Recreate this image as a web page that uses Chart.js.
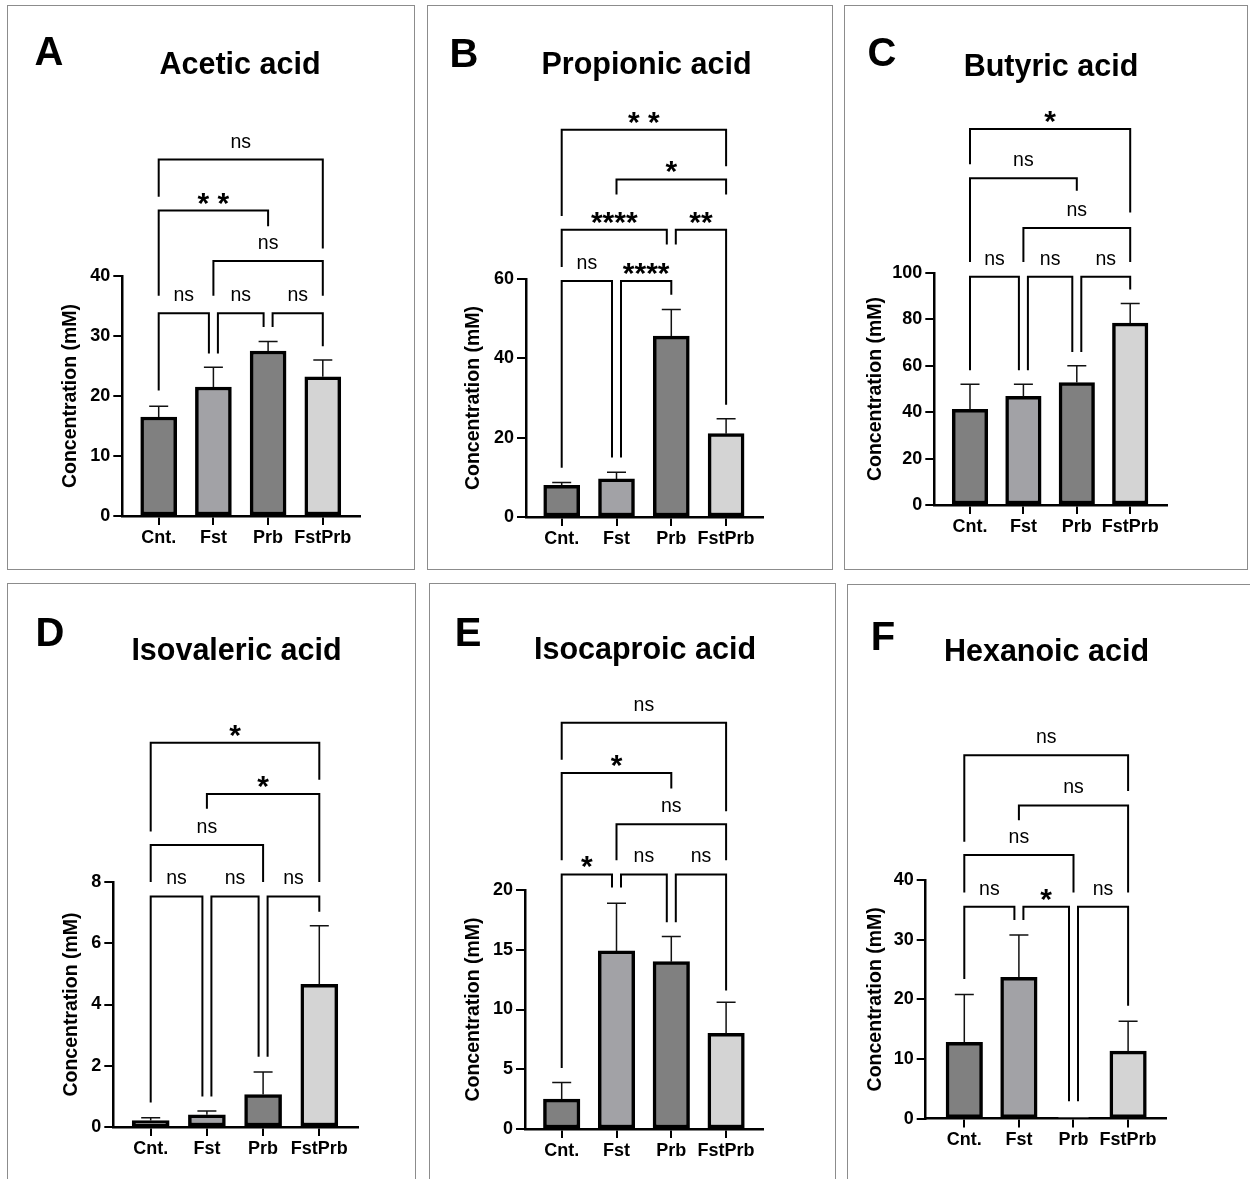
<!DOCTYPE html>
<html>
<head>
<meta charset="utf-8">
<script src="https://cdn.jsdelivr.net/npm/chart.js@4.4.1/dist/chart.umd.min.js"></script>
<style>
  html, body { margin: 0; padding: 0; background: #fff; }
  #page { position: relative; width: 1250px; height: 1179px; overflow: hidden; background: #fff; }
  .box { position: absolute; border: 1.5px solid #8c8c8c; box-sizing: border-box; pointer-events: none; }
  canvas.panel { position: absolute; }
  .letter, .title { position: absolute; line-height: 1; transform: translate(-50%, -50%); white-space: nowrap;
    font-family: 'Liberation Sans', Arial, sans-serif; font-weight: bold; color: #000; }
  .letter { font-size: 40px; }
  .title { font-size: 30.5px; }
</style>
</head>
<body>
<div id="page"></div>
<script>
// Groups and bar fills
const groups = ['Cnt.', 'Fst', 'Prb', 'FstPrb'];
const barColors = ['#808080', '#a2a2a6', '#808080', '#d4d4d4'];

// Significance brackets: [from, to, bracket height, left leg end, right leg end, label]

// A - Acetic acid
const aceticMean = [16.5, 21.5, 27.5, 23.2];
const aceticErr = [1.8, 3.3, 1.6, 2.8];
const aceticTicks = [0, 10, 20, 30, 40];
const aceticSig = [
  [0, 1, 33.8, 20.9, 27.1, 'ns'],
  [1, 2, 33.8, 27.1, 31.5, 'ns'],
  [2, 3, 33.8, 31.5, 28.3, 'ns'],
  [1, 3, 42.5, 36.7, 36.7, 'ns'],
  [0, 2, 50.9, 36.7, 48.3, '* *'],
  [0, 3, 59.4, 53.2, 44.6, 'ns']
];

// B - Propionic acid
const propionicMean = [8.0, 9.6, 45.6, 21.0];
const propionicErr = [0.7, 1.7, 6.7, 3.8];
const propionicTicks = [0, 20, 40, 60];
const propionicSig = [
  [0, 1, 59.5, 12.4, 15.0, 'ns'],
  [1, 2, 59.5, 15.0, 56.0, '****'],
  [0, 2, 72.4, 63.0, 68.7, '****'],
  [2, 3, 72.4, 68.7, 28.3, '**'],
  [1, 3, 85.1, 81.3, 81.3, '*'],
  [0, 3, 97.6, 75.9, 88.4, '* *']
];

// C - Butyric acid
const butyricMean = [41.2, 46.8, 52.8, 78.4];
const butyricErr = [10.9, 5.3, 7.2, 8.5];
const butyricTicks = [0, 20, 40, 60, 80, 100];
const butyricSig = [
  [0, 1, 98.4, 58.1, 58.1, 'ns'],
  [1, 2, 98.4, 58.1, 66.0, 'ns'],
  [2, 3, 98.4, 66.0, 92.9, 'ns'],
  [1, 3, 119.4, 104.7, 104.7, 'ns'],
  [0, 2, 140.8, 104.7, 135.5, 'ns'],
  [0, 3, 162.1, 146.9, 126.1, '*']
];

// D - Isovaleric acid
const isovalericMean = [0.21, 0.40, 1.06, 4.66];
const isovalericErr = [0.09, 0.12, 0.74, 1.91];
const isovalericTicks = [0, 2, 4, 6, 8];
const isovalericSig = [
  [0, 1, 7.53, 0.80, 1.0, 'ns'],
  [1, 2, 7.53, 1.0, 2.29, 'ns'],
  [2, 3, 7.53, 2.29, 7.03, 'ns'],
  [0, 2, 9.21, 8.0, 8.0, 'ns'],
  [1, 3, 10.87, 10.39, 8.0, '*'],
  [0, 3, 12.55, 9.65, 11.34, '*']
];

// E - Isocaproic acid
const isocaproicMean = [2.5, 14.9, 14.0, 8.0];
const isocaproicErr = [1.4, 4.0, 2.1, 2.6];
const isocaproicTicks = [0, 5, 10, 15, 20];
const isocaproicSig = [
  [0, 1, 21.3, 5.1, 20.2, '*'],
  [1, 2, 21.3, 20.2, 17.3, 'ns'],
  [2, 3, 21.3, 17.3, 11.6, 'ns'],
  [1, 3, 25.5, 22.5, 22.5, 'ns'],
  [0, 2, 29.8, 22.5, 28.5, '*'],
  [0, 3, 34.0, 30.9, 26.6, 'ns']
];

// F - Hexanoic acid
const hexanoicMean = [12.8, 23.7, 0.15, 11.3];
const hexanoicErr = [8.0, 7.1, 0, 5.0];
const hexanoicTicks = [0, 10, 20, 30, 40];
const hexanoicSig = [
  [0, 1, 35.5, 23.4, 33.3, 'ns'],
  [1, 2, 35.5, 33.3, 2.9, '*'],
  [2, 3, 35.5, 2.9, 18.9, 'ns'],
  [0, 2, 44.2, 37.9, 37.9, 'ns'],
  [1, 3, 52.5, 50.0, 37.9, 'ns'],
  [0, 3, 60.9, 46.4, 54.9, 'ns']
];

// Panel placement on the page (pixels)
const panels = [
  { letter: 'A', title: 'Acetic acid', mean: aceticMean, err: aceticErr, ticks: aceticTicks, sig: aceticSig,
    lay: { box: [7, 5, 415, 570], axisX: 122.3, y0: 516, yTop: 276, c0: 158.7, step: 54.7, xEnd: 360, barW: 36,
           titleXY: [240, 63], letterXY: [49, 51], yTitleX: 71 } },
  { letter: 'B', title: 'Propionic acid', mean: propionicMean, err: propionicErr, ticks: propionicTicks, sig: propionicSig,
    lay: { box: [427, 5, 833, 570], axisX: 526, y0: 517, yTop: 279, c0: 561.7, step: 54.8, xEnd: 763, barW: 36,
           titleXY: [646.5, 63], letterXY: [464, 53], yTitleX: 474 } },
  { letter: 'C', title: 'Butyric acid', mean: butyricMean, err: butyricErr, ticks: butyricTicks, sig: butyricSig,
    lay: { box: [844, 5, 1248, 570], axisX: 934.3, y0: 505, yTop: 273, c0: 970, step: 53.4, xEnd: 1166.7, barW: 35.5,
           titleXY: [1051, 65], letterXY: [882, 52], yTitleX: 876 } },
  { letter: 'D', title: 'Isovaleric acid', mean: isovalericMean, err: isovalericErr, ticks: isovalericTicks, sig: isovalericSig,
    lay: { box: [7, 583, 416, 1300], axisX: 113.3, y0: 1127, yTop: 882, c0: 150.7, step: 56.2, xEnd: 358.3, barW: 37,
           titleXY: [236.5, 649], letterXY: [50, 632], yTitleX: 72 } },
  { letter: 'E', title: 'Isocaproic acid', mean: isocaproicMean, err: isocaproicErr, ticks: isocaproicTicks, sig: isocaproicSig,
    lay: { box: [429, 583, 836, 1300], axisX: 525, y0: 1129, yTop: 890, c0: 561.7, step: 54.8, xEnd: 763.3, barW: 36.5,
           titleXY: [645, 648], letterXY: [468, 632], yTitleX: 474 } },
  { letter: 'F', title: 'Hexanoic acid', mean: hexanoicMean, err: hexanoicErr, ticks: hexanoicTicks, sig: hexanoicSig,
    lay: { box: [847, 584, 1252, 1300], axisX: 925.7, y0: 1118.6, yTop: 880, c0: 964.3, step: 54.6, xEnd: 1166, barW: 36.5,
           titleXY: [1046.5, 650], letterXY: [883, 636], yTitleX: 876 } }
];

Chart.defaults.font.family = "'Liberation Sans', Arial, sans-serif";
Chart.defaults.color = '#000';

const page = document.getElementById('page');

// Upper error bars with a cap
const errorBars = {
  id: 'errorBars',
  afterDatasetsDraw(chart) {
    const ctx = chart.ctx;
    const ys = chart.scales.y;
    const ds = chart.data.datasets[0];
    chart.getDatasetMeta(0).data.forEach((bar, i) => {
      const e = ds.errors[i];
      if (!e) return;
      const top = ys.getPixelForValue(ds.data[i].y + e);
      ctx.save();
      ctx.strokeStyle = '#111';
      ctx.lineWidth = 1.5;
      ctx.beginPath();
      ctx.moveTo(bar.x, bar.y);
      ctx.lineTo(bar.x, top);
      ctx.moveTo(bar.x - 9.5, top);
      ctx.lineTo(bar.x + 9.5, top);
      ctx.stroke();
      ctx.restore();
    });
  }
};

// Comparison brackets drawn above the bars
function bracketPlugin(sig) {
  return {
    id: 'brackets',
    afterDraw(chart) {
      const ctx = chart.ctx;
      const xs = chart.scales.x, ys = chart.scales.y;
      const legX = (s, end) => {
        const idx = s[end];
        let x = xs.getPixelForValue(idx);
        const shared = sig.some(o => o !== s && o[2] === s[2] && (end === 0 ? o[1] === idx : o[0] === idx));
        if (shared) x += end === 0 ? 4.5 : -4.5;
        return x;
      };
      ctx.save();
      ctx.strokeStyle = '#000';
      ctx.fillStyle = '#000';
      ctx.lineWidth = 2;
      sig.forEach(s => {
        const xa = legX(s, 0), xb = legX(s, 1);
        const yb = ys.getPixelForValue(s[2]);
        ctx.beginPath();
        ctx.moveTo(xa, ys.getPixelForValue(s[3]));
        ctx.lineTo(xa, yb);
        ctx.lineTo(xb, yb);
        ctx.lineTo(xb, ys.getPixelForValue(s[4]));
        ctx.stroke();
        const star = s[5].indexOf('*') >= 0;
        ctx.textAlign = 'center';
        ctx.textBaseline = 'alphabetic';
        if (star) {
          ctx.font = "bold 30px 'Liberation Sans', Arial, sans-serif";
          ctx.fillText(s[5], (xa + xb) / 2, yb - 15.5 + 17.5);
        } else {
          ctx.font = "19.5px 'Liberation Sans', Arial, sans-serif";
          ctx.fillText(s[5], (xa + xb) / 2, yb - 17 + 5);
        }
      });
      ctx.restore();
    }
  };
}

function makePanel(p) {
  const lay = p.lay;
  const [L, T, R, B] = lay.box;
  const W = R - L;
  const H = Math.min(B, 1179) - T;

  const box = document.createElement('div');
  box.className = 'box';
  box.style.left = L + 'px'; box.style.top = T + 'px';
  box.style.width = W + 'px'; box.style.height = (B - T) + 'px';

  const canvas = document.createElement('canvas');
  canvas.className = 'panel';
  canvas.width = W; canvas.height = H;
  canvas.style.left = L + 'px'; canvas.style.top = T + 'px';
  canvas.style.width = W + 'px'; canvas.style.height = H + 'px';
  page.appendChild(canvas);
  page.appendChild(box);

  const letter = document.createElement('div');
  letter.className = 'letter';
  letter.textContent = p.letter;
  letter.style.left = lay.letterXY[0] + 'px'; letter.style.top = lay.letterXY[1] + 'px';
  page.appendChild(letter);

  const title = document.createElement('div');
  title.className = 'title';
  title.textContent = p.title;
  title.style.left = lay.titleXY[0] + 'px'; title.style.top = lay.titleXY[1] + 'px';
  page.appendChild(title);

  const xMin = -(lay.c0 - lay.axisX) / lay.step;
  const xMax = (lay.xEnd - lay.c0) / lay.step;
  const yFont = 19.5;
  const titlePad = lay.yTitleX - L - yFont * 1.2 / 2;

  new Chart(canvas, {
    type: 'bar',
    data: {
      datasets: [{
        data: p.mean.map((v, i) => ({ x: i, y: v })),
        errors: p.err,
        backgroundColor: barColors,
        borderColor: '#000',
        borderWidth: 3.5,
        borderSkipped: false,
        barThickness: lay.barW
      }]
    },
    options: {
      responsive: false,
      animation: false,
      devicePixelRatio: 1,
      events: [],
      layout: { padding: { left: 0, top: lay.yTop - T, right: W - (lay.xEnd - L), bottom: 0 } },
      plugins: { legend: { display: false }, tooltip: { enabled: false }, title: { display: false } },
      scales: {
        x: {
          type: 'linear',
          offset: false,
          min: xMin,
          max: xMax,
          afterBuildTicks: s => { s.ticks = groups.map((g, i) => ({ value: i })); },
          afterFit: s => { s.height = H - (lay.y0 - T); },
          ticks: { callback: v => groups[v], color: '#000', font: { size: 18, weight: 'bold' }, padding: 2, autoSkip: false, maxRotation: 0 },
          grid: { offset: false, drawOnChartArea: false, color: '#000', lineWidth: 2, tickLength: 9 },
          border: { color: '#000', width: 2.5 }
        },
        y: {
          min: 0,
          max: p.ticks[p.ticks.length - 1],
          afterBuildTicks: s => { s.ticks = p.ticks.map(v => ({ value: v })); },
          afterFit: s => { s.width = lay.axisX - L; },
          ticks: { color: '#000', font: { size: 18, weight: 'bold' }, padding: 3 },
          grid: { drawOnChartArea: false, color: '#000', lineWidth: 2, tickLength: 9 },
          border: { color: '#000', width: 2.5 },
          title: { display: true, text: 'Concentration (mM)', color: '#000', font: { size: yFont, weight: 'bold' }, padding: { top: titlePad, bottom: 0 } }
        }
      }
    },
    plugins: [errorBars, bracketPlugin(p.sig)]
  });
}

panels.forEach(makePanel);
</script>
</body>
</html>
